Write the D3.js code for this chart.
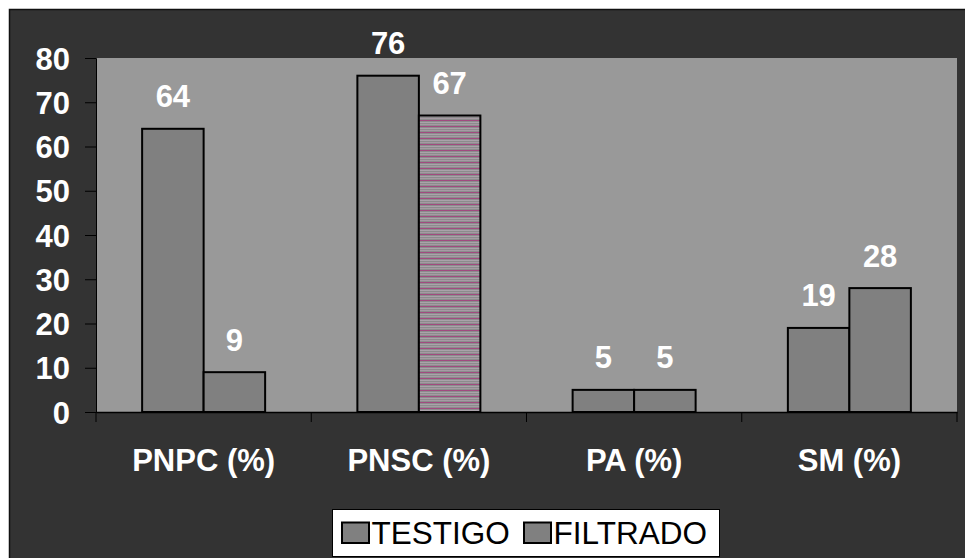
<!DOCTYPE html>
<html><head><meta charset="utf-8">
<script src="https://cdn.jsdelivr.net/npm/d3@7"></script>
<style>html,body{margin:0;padding:0;background:#fff;}svg{display:block;}</style>
</head><body>
<svg id="chart" width="965" height="558"></svg>
<script>
const categories = ["PNPC (%)", "PNSC (%)", "PA (%)", "SM (%)"];
const seriesNames = ["TESTIGO", "FILTRADO"];
const testigo = [64, 76, 5, 19];
const filtrado = [9, 67, 5, 28];
const yTicks = [0, 10, 20, 30, 40, 50, 60, 70, 80];

const svg = d3.select("#chart");
const font = "'Liberation Sans', Arial, sans-serif";
const plot = {left: 96, right: 957, top: 58, bottom: 412};

// pattern for striped bar
const defs = svg.append("defs");
const pat = defs.append("pattern").attr("id", "stripes").attr("patternUnits", "userSpaceOnUse")
  .attr("width", 8).attr("height", 6);
pat.append("rect").attr("width", 8).attr("height", 6).attr("fill", "#8c8c8c");
pat.append("rect").attr("y", 0).attr("width", 8).attr("height", 1).attr("fill", "#a24a80");
pat.append("rect").attr("y", 2).attr("width", 8).attr("height", 1).attr("fill", "#aaa2aa");
pat.append("rect").attr("y", 4).attr("width", 8).attr("height", 1).attr("fill", "#a69aa4");

// outer background
svg.append("rect").attr("x", 9.5).attr("y", 9.5).attr("width", 965).attr("height", 560)
  .attr("fill", "#333333").attr("stroke", "#111").attr("stroke-width", 1.5);

// plot area
svg.append("rect").attr("x", plot.left).attr("y", plot.top)
  .attr("width", plot.right - plot.left).attr("height", plot.bottom - plot.top)
  .attr("fill", "#999999");

const x0 = d3.scaleBand().domain(categories).range([plot.left, plot.right]).paddingInner(0).paddingOuter(0);
const x1 = d3.scaleBand().domain(seriesNames).range([0, x0.bandwidth()]).paddingInner(0).paddingOuter(0.75);
const y = d3.scaleLinear().domain([0, 80]).range([plot.bottom, plot.top]);

const data = categories.map((c, i) => ({cat: c, values: [
  {s: seriesNames[0], v: testigo[i]}, {s: seriesNames[1], v: filtrado[i]}]}));

const groups = svg.append("g").selectAll("g").data(data).join("g")
  .attr("transform", d => `translate(${x0(d.cat)},0)`);

groups.selectAll("rect").data(d => d.values.map(v => ({...v, cat: d.cat}))).join("rect")
  .attr("x", d => x1(d.s)).attr("y", d => y(d.v))
  .attr("width", x1.bandwidth()).attr("height", d => y(0) - y(d.v))
  .attr("fill", d => (d.cat === "PNSC (%)" && d.s === "FILTRADO") ? "url(#stripes)" : "#808080")
  .attr("stroke", "#000").attr("stroke-width", 2);

groups.selectAll("text").data(d => d.values).join("text")
  .attr("x", d => x1(d.s) + x1.bandwidth() / 2).attr("y", d => y(d.v) - 21.5)
  .attr("text-anchor", "middle").attr("fill", "#fff")
  .style("font", `bold 31px ${font}`).text(d => d.v);

// y axis
const yAxis = d3.axisLeft(y).tickValues(yTicks).tickSize(11).tickPadding(15);
const yg = svg.append("g").attr("transform", `translate(${plot.left},0)`).call(yAxis);
yg.select(".domain").attr("stroke", "#000").attr("stroke-width", 1);
yg.selectAll(".tick line").attr("stroke", "#000");
yg.selectAll(".tick text").attr("fill", "#fff").style("font", `bold 31px ${font}`).attr("dy", "0.36em");

// x axis
const xAxis = d3.axisBottom(x0).tickSize(0).tickPadding(0);
const xg = svg.append("g").attr("transform", `translate(0,${plot.bottom})`).call(xAxis);
xg.select(".domain").attr("stroke", "#000").attr("stroke-width", 1.5);
xg.selectAll(".tick text").attr("fill", "#fff").style("font", `bold 31px ${font}`).attr("y", 59).attr("dy", 0);
const bounds = categories.map(c => x0(c)).concat([plot.right]);
svg.append("g").selectAll("line").data(bounds).join("line")
  .attr("x1", d => d).attr("x2", d => d).attr("y1", plot.bottom).attr("y2", plot.bottom + 10)
  .attr("stroke", "#000").attr("stroke-width", 1);

// legend
const lg = svg.append("g");
lg.append("rect").attr("x", 332.5).attr("y", 509.5).attr("width", 387).attr("height", 47)
  .attr("fill", "#fff").attr("stroke", "#000").attr("stroke-width", 1);
const legendX = [341, 523];
const legendItems = lg.selectAll("g").data(seriesNames).join("g")
  .attr("transform", (d, i) => `translate(${legendX[i]},0)`);
legendItems.append("rect").attr("x", 1).attr("y", 522.5).attr("width", 27).attr("height", 20.5)
  .attr("fill", "#808080").attr("stroke", "#000").attr("stroke-width", 2);
legendItems.append("text").attr("x", 30.5).attr("y", 543.5).attr("fill", "#000")
  .style("font", `31.5px ${font}`).text(d => d);
</script>
</body></html>
